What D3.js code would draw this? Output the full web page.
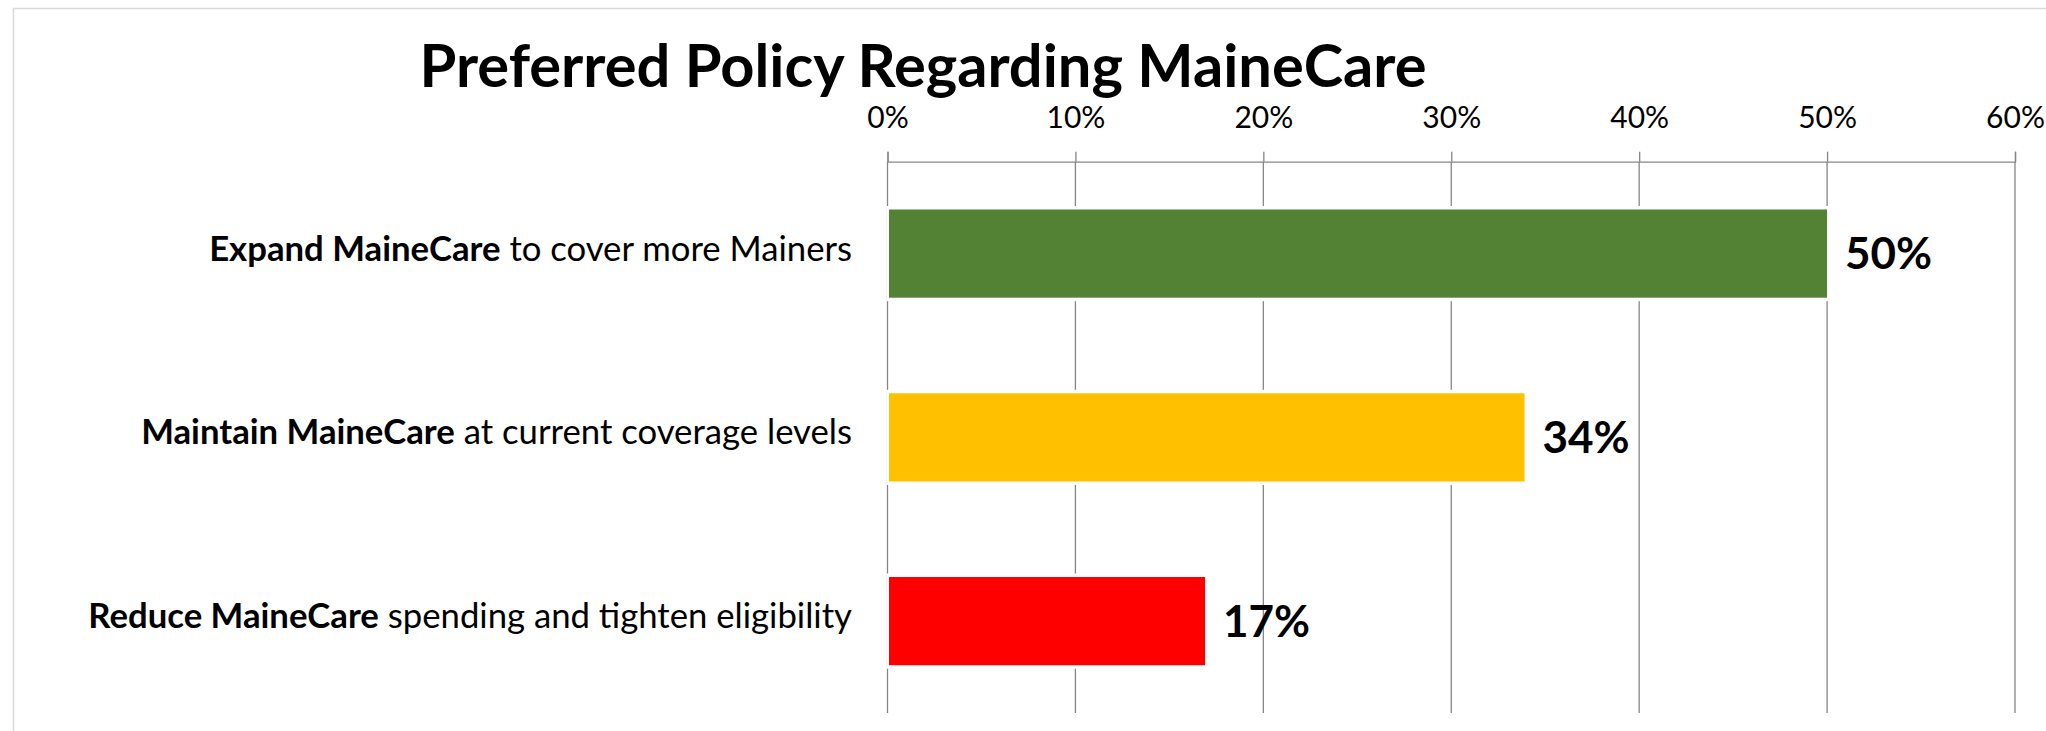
<!DOCTYPE html>
<html>
<head>
<meta charset="utf-8">
<script src="https://cdn.jsdelivr.net/npm/d3@7"></script>
<style>
  html, body { margin: 0; padding: 0; background: #fff; overflow: hidden; }
  svg { display: block; }
</style>
</head>
<body>
<div class="canvas"></div>
<script>
// data
const categories = ['Expand MaineCare', 'Maintain MaineCare', 'Reduce MaineCare'];
const descriptions = [' to cover more Mainers', ' at current coverage levels', ' spending and tighten eligibility'];
const values = [0.50, 0.339, 0.169];
const barColors = ['#548235', '#ffc000', '#ff0000'];
const tickValues = [0, 0.1, 0.2, 0.3, 0.4, 0.5, 0.6];
const title = 'Preferred Policy Regarding MaineCare';

const dims = {
  width: 2046,
  height: 731,
  left: 887.5,
  right: 2015,
  top: 161.7,
  bottom: 713,
  fontFamily: 'Lato, "Open Sans", sans-serif'
};

const svg = d3
  .select('.canvas')
  .append('svg')
  .attr('width', dims.width)
  .attr('height', dims.height);

// chart frame
svg.append('rect')
  .attr('x', 13.5)
  .attr('y', 8.5)
  .attr('width', dims.width)
  .attr('height', dims.height)
  .attr('fill', '#fff')
  .attr('stroke', '#d9d9d9')
  .attr('stroke-width', 1.5);

// title
svg.append('text')
  .attr('x', 923)
  .attr('y', 86.5)
  .attr('text-anchor', 'middle')
  .attr('font-family', dims.fontFamily)
  .attr('font-weight', 'bold')
  .attr('font-size', '59.6px')
  .attr('fill', '#000')
  .text(title);

// scales
const x = d3.scaleLinear().domain([0, 0.6]).range([dims.left, dims.right]);
const y = d3
  .scaleBand()
  .domain(categories)
  .range([dims.top, dims.bottom])
  .paddingInner(0.52)
  .paddingOuter(0.26);

// gridlines
svg.append('g')
  .selectAll('line')
  .data(tickValues)
  .enter()
  .append('line')
  .attr('x1', (d) => x(d))
  .attr('x2', (d) => x(d))
  .attr('y1', dims.top)
  .attr('y2', dims.bottom)
  .attr('stroke', '#868686')
  .attr('stroke-width', 1.3);

// top axis
const xAxis = d3
  .axisTop(x)
  .tickValues(tickValues)
  .tickSize(10)
  .tickPadding(24)
  .tickFormat(d3.format('.0%'));

const xAxisGroup = svg.append('g')
  .attr('transform', `translate(0, ${dims.top})`)
  .call(xAxis);

xAxisGroup.select('path.domain')
  .attr('stroke', '#868686')
  .attr('stroke-width', 1.3);
xAxisGroup.selectAll('.tick line')
  .attr('stroke', '#868686')
  .attr('stroke-width', 1.3);
xAxisGroup.selectAll('.tick text')
  .attr('fill', '#000')
  .attr('font-family', dims.fontFamily)
  .attr('font-size', '30px');

// bars (white halo hides the gridlines around them)
const bars = svg.append('g')
  .selectAll('g')
  .data(categories)
  .enter()
  .append('g');

bars.append('rect')
  .attr('x', x(0) - 1)
  .attr('y', (d) => y(d) - 3.5)
  .attr('width', (d, i) => x(values[i]) - x(0) + 4.5)
  .attr('height', y.bandwidth() + 7)
  .attr('fill', '#fff');

bars.append('rect')
  .attr('x', x(0) + 1.5)
  .attr('y', (d) => y(d))
  .attr('width', (d, i) => x(values[i]) - x(0) - 1.5)
  .attr('height', y.bandwidth())
  .attr('fill', (d, i) => barColors[i]);

// value labels
bars.append('text')
  .attr('x', (d, i) => x(values[i]) + 18)
  .attr('y', (d) => y(d) + y.bandwidth() / 2)
  .attr('dy', '0.36em')
  .attr('font-family', dims.fontFamily)
  .attr('font-weight', 'bold')
  .attr('font-size', '44px')
  .attr('fill', '#000')
  .text((d, i) => d3.format('.0%')(values[i]));

// category labels
const labels = bars.append('text')
  .attr('x', 852)
  .attr('y', (d) => y(d) + y.bandwidth() / 2)
  .attr('dy', '0.2em')
  .attr('text-anchor', 'end')
  .attr('font-family', dims.fontFamily)
  .attr('font-size', '34.7px')
  .attr('fill', '#000');

labels.append('tspan')
  .attr('font-weight', 'bold')
  .text((d) => d);
labels.append('tspan')
  .text((d, i) => descriptions[i]);
</script>
</body>
</html>
